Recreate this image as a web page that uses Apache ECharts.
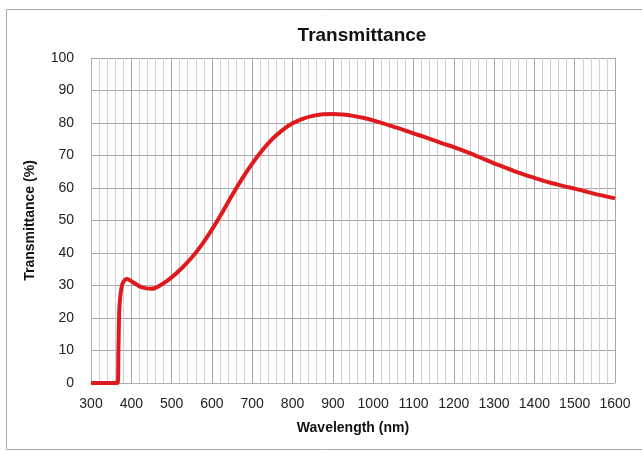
<!DOCTYPE html>
<html>
<head>
<meta charset="utf-8">
<script src="https://cdn.jsdelivr.net/npm/echarts@6/dist/echarts.min.js"></script>
<style>
  html, body { margin: 0; padding: 0; background: #fff; }
  #chart { width: 642px; height: 451px; }
</style>
</head>
<body>
<div id="chart"></div>
<script>
// wavelength (nm) and transmittance (%)
const wavelength = [300, 366, 368, 370, 373, 378, 385, 390, 400, 425, 450, 475, 500, 525, 550, 575, 600, 625, 650, 675, 700, 725, 750, 775, 800, 825, 850, 875, 900, 925, 950, 975, 1000, 1025, 1050, 1075, 1100, 1125, 1150, 1175, 1200, 1225, 1250, 1275, 1300, 1325, 1350, 1375, 1400, 1425, 1450, 1475, 1500, 1525, 1550, 1575, 1600]
const transmittance = [0, 0, 10, 22, 27, 30.5, 31.8, 32, 31.3, 29.5, 29.0, 30.3, 32.5, 35.3, 38.6, 42.6, 47.2, 52.3, 57.8, 62.9, 67.5, 71.6, 75.1, 77.8, 79.9, 81.3, 82.2, 82.7, 82.8, 82.6, 82.2, 81.6, 80.8, 79.9, 78.9, 77.9, 76.8, 75.8, 74.7, 73.6, 72.6, 71.4, 70.2, 68.9, 67.6, 66.4, 65.2, 64.1, 63.1, 62.1, 61.3, 60.5, 59.8, 59.0, 58.2, 57.5, 56.8]

const font = '"Liberation Sans", Arial, sans-serif'
const chart = echarts.init(document.getElementById('chart'), null, { renderer: 'canvas' })

chart.setOption({
  animation: false,
  title: {
    text: 'Transmittance',
    left: 357, top: 21, textAlign: 'center',
    textStyle: { fontFamily: font, fontSize: 19, fontWeight: 'bold', color: '#111' }
  },
  graphic: [{
    type: 'rect', silent: true,
    shape: { x: 6.5, y: 9.5, width: 650, height: 440 },
    style: { fill: null, stroke: '#a8a8a8', lineWidth: 1 }
  }],
  grid: { left: 91, right: 27, top: 58, bottom: 68 },
  xAxis: {
    type: 'value', min: 300, max: 1600, interval: 100,
    name: 'Wavelength (nm)', nameLocation: 'middle', nameGap: 38,
    nameTextStyle: { fontFamily: font, fontSize: 14, fontWeight: 'bold', color: '#111' },
    axisLine: { show: true, lineStyle: { color: '#b0b0b0' } },
    axisTick: { show: false },
    axisLabel: { fontFamily: font, fontSize: 14, color: '#222', margin: 14, formatter: v => String(v) },
    splitLine: { show: true, lineStyle: { color: '#a6a6a6', width: 1 } },
    minorTick: { show: false, splitNumber: 5 },
    minorSplitLine: { show: true, lineStyle: { color: '#cfcfcf', width: 1 } }
  },
  yAxis: {
    type: 'value', min: 0, max: 100, interval: 10,
    name: 'Transmittance (%)', nameLocation: 'middle', nameGap: 54,
    nameTextStyle: { fontFamily: font, fontSize: 14, fontWeight: 'bold', color: '#111' },
    axisLine: { show: true, lineStyle: { color: '#b0b0b0' } },
    axisTick: { show: false },
    axisLabel: { fontFamily: font, fontSize: 14, color: '#222', margin: 17 },
    splitLine: { show: true, lineStyle: { color: '#a6a6a6', width: 1 } }
  },
  series: [{
    type: 'line',
    data: wavelength.map((w, i) => [w, transmittance[i]]),
    showSymbol: false,
    smooth: 0.3,
    lineStyle: { color: '#df1a1f', width: 4 }
  }]
})
</script>
</body>
</html>
